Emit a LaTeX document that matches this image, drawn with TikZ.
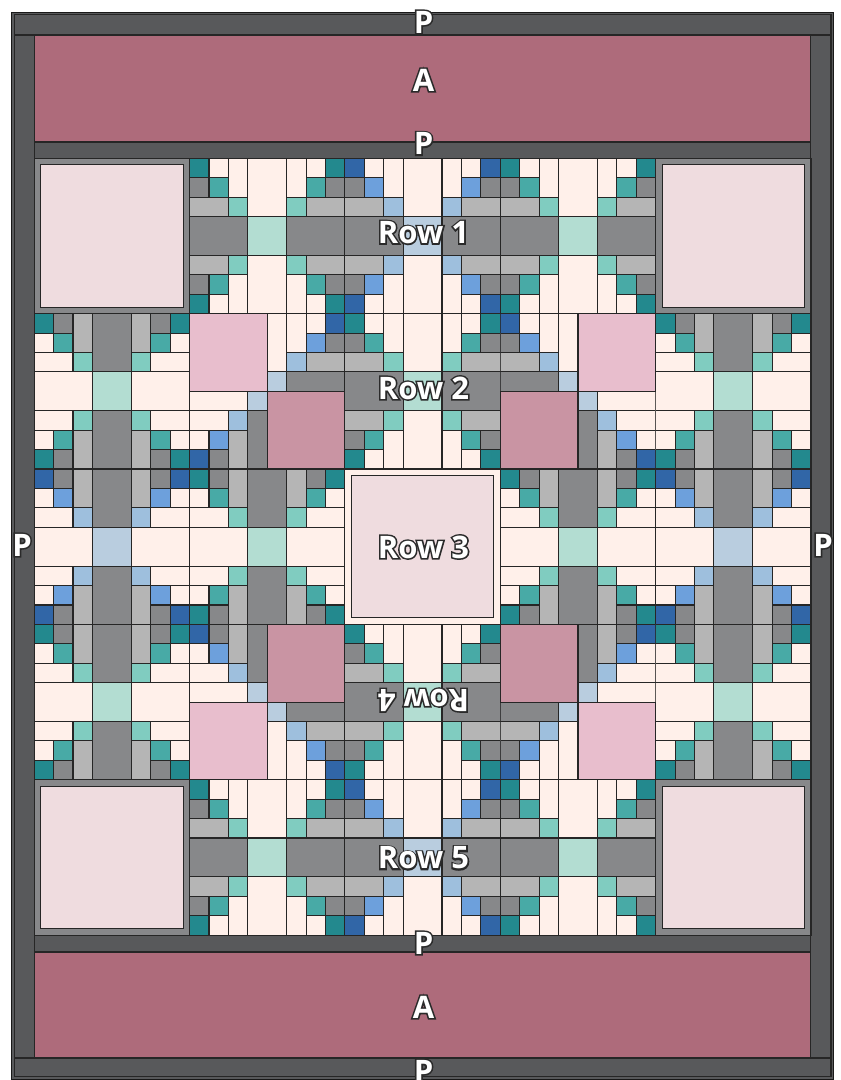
\documentclass[tikz,border=0pt]{standalone}
\usepackage{fontspec}
\newfontfamily\quiltfont{Open Sans}
\usepackage{xcolor}
\usepackage{tikz}

\definecolor{qborder}{HTML}{58595B}
\definecolor{qmauve}{HTML}{AE6B7B}
\definecolor{qblush}{HTML}{EFDCDF}
\definecolor{qcream}{HTML}{FFF0EA}
\definecolor{qgray}{HTML}{87888A}
\definecolor{qlgray}{HTML}{B5B5B5}
\definecolor{qteal}{HTML}{23898E}
\definecolor{qteal2}{HTML}{48AAA6}
\definecolor{qmint}{HTML}{80CCC0}
\definecolor{qpalemint}{HTML}{B3DDD2}
\definecolor{qnavy}{HTML}{3166A7}
\definecolor{qblue}{HTML}{6DA0DC}
\definecolor{qsky}{HTML}{9EBFDD}
\definecolor{qpaleblue}{HTML}{B9CDDF}
\definecolor{qpink}{HTML}{E8BECD}
\definecolor{qrose}{HTML}{C994A3}
\definecolor{qink}{HTML}{2A2A2A}

\tikzset{
  cellline/.style={draw=black!85, line width=1.1pt},
  strip/.style={cellline, fill=qborder},
  tag/.style={font=\quiltfont\bfseries\fontsize{31}{31}\selectfont, inner sep=0pt},
}

% white letters with a dark rim
\newcommand\ringed[1]{%
  \rlap{\addfontfeature{FakeBold=10}\color{qink}#1}%
  {\color{white}#1}}

% one patch, placed in block units (swapped when the block stands upright)
\newif\ifqvert
\newcommand\qput[5]{%
  \ifqvert
    \filldraw[cellline, fill=#5] (\qx+#2,\qy+#1) rectangle ++(#4,#3);
  \else
    \filldraw[cellline, fill=#5] (\qx+#1,\qy+#2) rectangle ++(#3,#4);
  \fi}
% a patch and its three mirror images
\newcommand\qrect[5]{%
  \qput{#1}{#2}{#3}{#4}{#5}%
  \qput{8-#1-#3}{#2}{#3}{#4}{#5}%
  \qput{#1}{8-#2-#4}{#3}{#4}{#5}%
  \qput{8-#1-#3}{8-#2-#4}{#3}{#4}{#5}}
% 8x8 block: x, y, h/v, corner, accent, edge, centre
\newcommand\qblock[7]{%
  \def\qx{#1}\def\qy{#2}%
  \if#3v\qverttrue\else\qvertfalse\fi
  \qrect{0}{0}{1}{1}{#4}
  \qrect{1}{0}{1}{1}{qcream}
  \qrect{2}{0}{1}{2}{qcream}
  \qrect{3}{0}{2}{3}{qcream}
  \qrect{0}{1}{1}{1}{qgray}
  \qrect{1}{1}{1}{1}{#5}
  \qrect{0}{2}{2}{1}{qlgray}
  \qrect{2}{2}{1}{1}{#6}
  \qrect{0}{3}{3}{2}{qgray}
  \qrect{3}{3}{2}{2}{#7}}
\newcommand\bblock[3]{\qblock{#1}{#2}{#3}{qteal}{qteal2}{qmint}{qpalemint}}
\newcommand\cblock[3]{\qblock{#1}{#2}{#3}{qnavy}{qblue}{qsky}{qpaleblue}}
% framed square
\newcommand\framed[3]{%
  \filldraw[cellline, fill=#3] (#1,#2) rectangle ++(8,8);
  \filldraw[cellline, fill=qblush] (#1+0.335,#2+0.335) rectangle ++(7.33,7.33);}
% pink block: x, y, offset of the pale pink quarter
\newcommand\dblock[4]{%
  \begin{scope}
    \clip (#1+4-#3,#2+#4) rectangle ++(4,4);
    \cblock{#1}{#2}{h}
  \end{scope}
  \begin{scope}
    \clip (#1+#3,#2+4-#4) rectangle ++(4,4);
    \cblock{#1}{#2}{v}
  \end{scope}
  \filldraw[cellline, fill=qpink] (#1+#3,#2+#4) rectangle ++(4,4);
  \filldraw[cellline, fill=qrose] (#1+4-#3,#2+4-#4) rectangle ++(4,4);}

\begin{document}
\begin{tikzpicture}[x=1pt, y=-1pt]
    \useasboundingbox (0,0) rectangle (841,1080);

    % Outer border
    \filldraw[fill=qborder, draw=black!90, line width=1pt] (11.5,12) rectangle (833.5,1079);
    \filldraw[strip] (14.5,14.5) rectangle (831,35);
    \filldraw[strip] (14.5,35) rectangle (34.2,1058);
    \filldraw[strip] (810.9,35) rectangle (831,1058);
    \filldraw[strip] (14.5,1058) rectangle (831,1076.5);

    % Top and bottom bands
    \filldraw[cellline, fill=qmauve] (34.2,35) rectangle (810.9,142);
    \filldraw[strip] (34.2,142) rectangle (810.9,158.3);
    \filldraw[strip] (34.2,935) rectangle (810.9,952);
    \filldraw[cellline, fill=qmauve] (34.2,952) rectangle (810.9,1058);

    % Blocks
    \begin{scope}[shift={(34.2,158.3)}, x=19.42pt, y=-19.42pt]
        % Row 1
        \framed{0}{0}{qgray}
        \bblock{8}{0}{h}
        \cblock{16}{0}{h}
        \bblock{24}{0}{h}
        \framed{32}{0}{qgray}
        % Side columns
        \bblock{0}{8}{v}
        \cblock{0}{16}{v}
        \bblock{0}{24}{v}
        \bblock{32}{8}{v}
        \cblock{32}{16}{v}
        \bblock{32}{24}{v}
        % Inner ring
        \dblock{8}{8}{0}{0}
        \bblock{16}{8}{h}
        \dblock{24}{8}{4}{0}
        \bblock{8}{16}{v}
        \framed{16}{16}{qcream}
        \bblock{24}{16}{v}
        \dblock{8}{24}{0}{4}
        \bblock{16}{24}{h}
        \dblock{24}{24}{4}{4}
        % Row 5
        \framed{0}{32}{qgray}
        \bblock{8}{32}{h}
        \cblock{16}{32}{h}
        \bblock{24}{32}{h}
        \framed{32}{32}{qgray}
    \end{scope}

    % Labels
    \node[tag] (ptop) at (423.5,22) {\ringed{P}};
    \node[tag] (atop) at (423.5,80) {\ringed{A}};
    \node[tag] (pupper) at (423.5,143.5) {\ringed{P}};
    \node[tag] (row1) at (423.5,232.5) {\ringed{Row 1}};
    \node[tag] (row2) at (423.5,388) {\ringed{Row 2}};
    \node[tag] (row3) at (423.5,547) {\ringed{Row 3}};
    \node[tag, rotate=180] (row4) at (423.5,700) {\ringed{Row 4}};
    \node[tag] (row5) at (423.5,858) {\ringed{Row 5}};
    \node[tag] (plower) at (423.5,943) {\ringed{P}};
    \node[tag] (abottom) at (423.5,1007) {\ringed{A}};
    \node[tag] (pbottom) at (423.5,1071) {\ringed{P}};
    \node[tag] (pleft) at (22,545) {\ringed{P}};
    \node[tag] (pright) at (823,545) {\ringed{P}};
\end{tikzpicture}
\end{document}
